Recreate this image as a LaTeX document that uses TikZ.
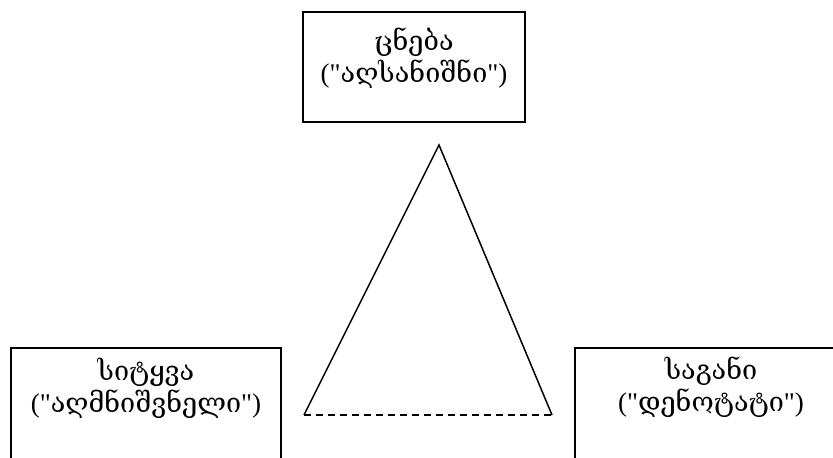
\documentclass[tikz,border=0pt]{standalone}
\usepackage{fontspec}
\setmainfont{Liberation Serif}[Ligatures=TeXOff]
\newfontfamily\geo{DejaVu Serif}[Ligatures=TeXOff]
\begin{document}
\begin{tikzpicture}[x=1pt,y=-1pt,
  box/.style={draw,line width=1.4pt,inner sep=0pt},
  lbl/.style={align=center,font=\fontsize{27}{32}\selectfont,inner sep=0pt},
  edge/.style={line width=1.5pt}]
\useasboundingbox (0,0) rectangle (833,458);
\node[box,minimum width=222,minimum height=110] (cbox) at (414,67) {};
\node[lbl] (ctxt) at (414,58) {{\geo ცნება}\\("{\geo აღსანიშნი}")};
\node[box,minimum width=270,minimum height=124] (lbox) at (146,410) {};
\node[lbl] (ltxt) at (146,388) {{\geo სიტყვა}\\("{\geo აღმნიშვნელი}")};
\node[box,minimum width=270,minimum height=124] (rbox) at (710,410) {};
\node[lbl] (rtxt) at (711,387) {{\geo საგანი}\\("{\geo დენოტატი}")};
\coordinate (apex) at (439,145);
\coordinate (bl) at (304,415);
\coordinate (br) at (552,415);
\draw[edge] (bl) -- (apex) -- (br);
\draw[edge,dash pattern=on 7pt off 5pt] (bl) -- (br);
\end{tikzpicture}
\end{document}
